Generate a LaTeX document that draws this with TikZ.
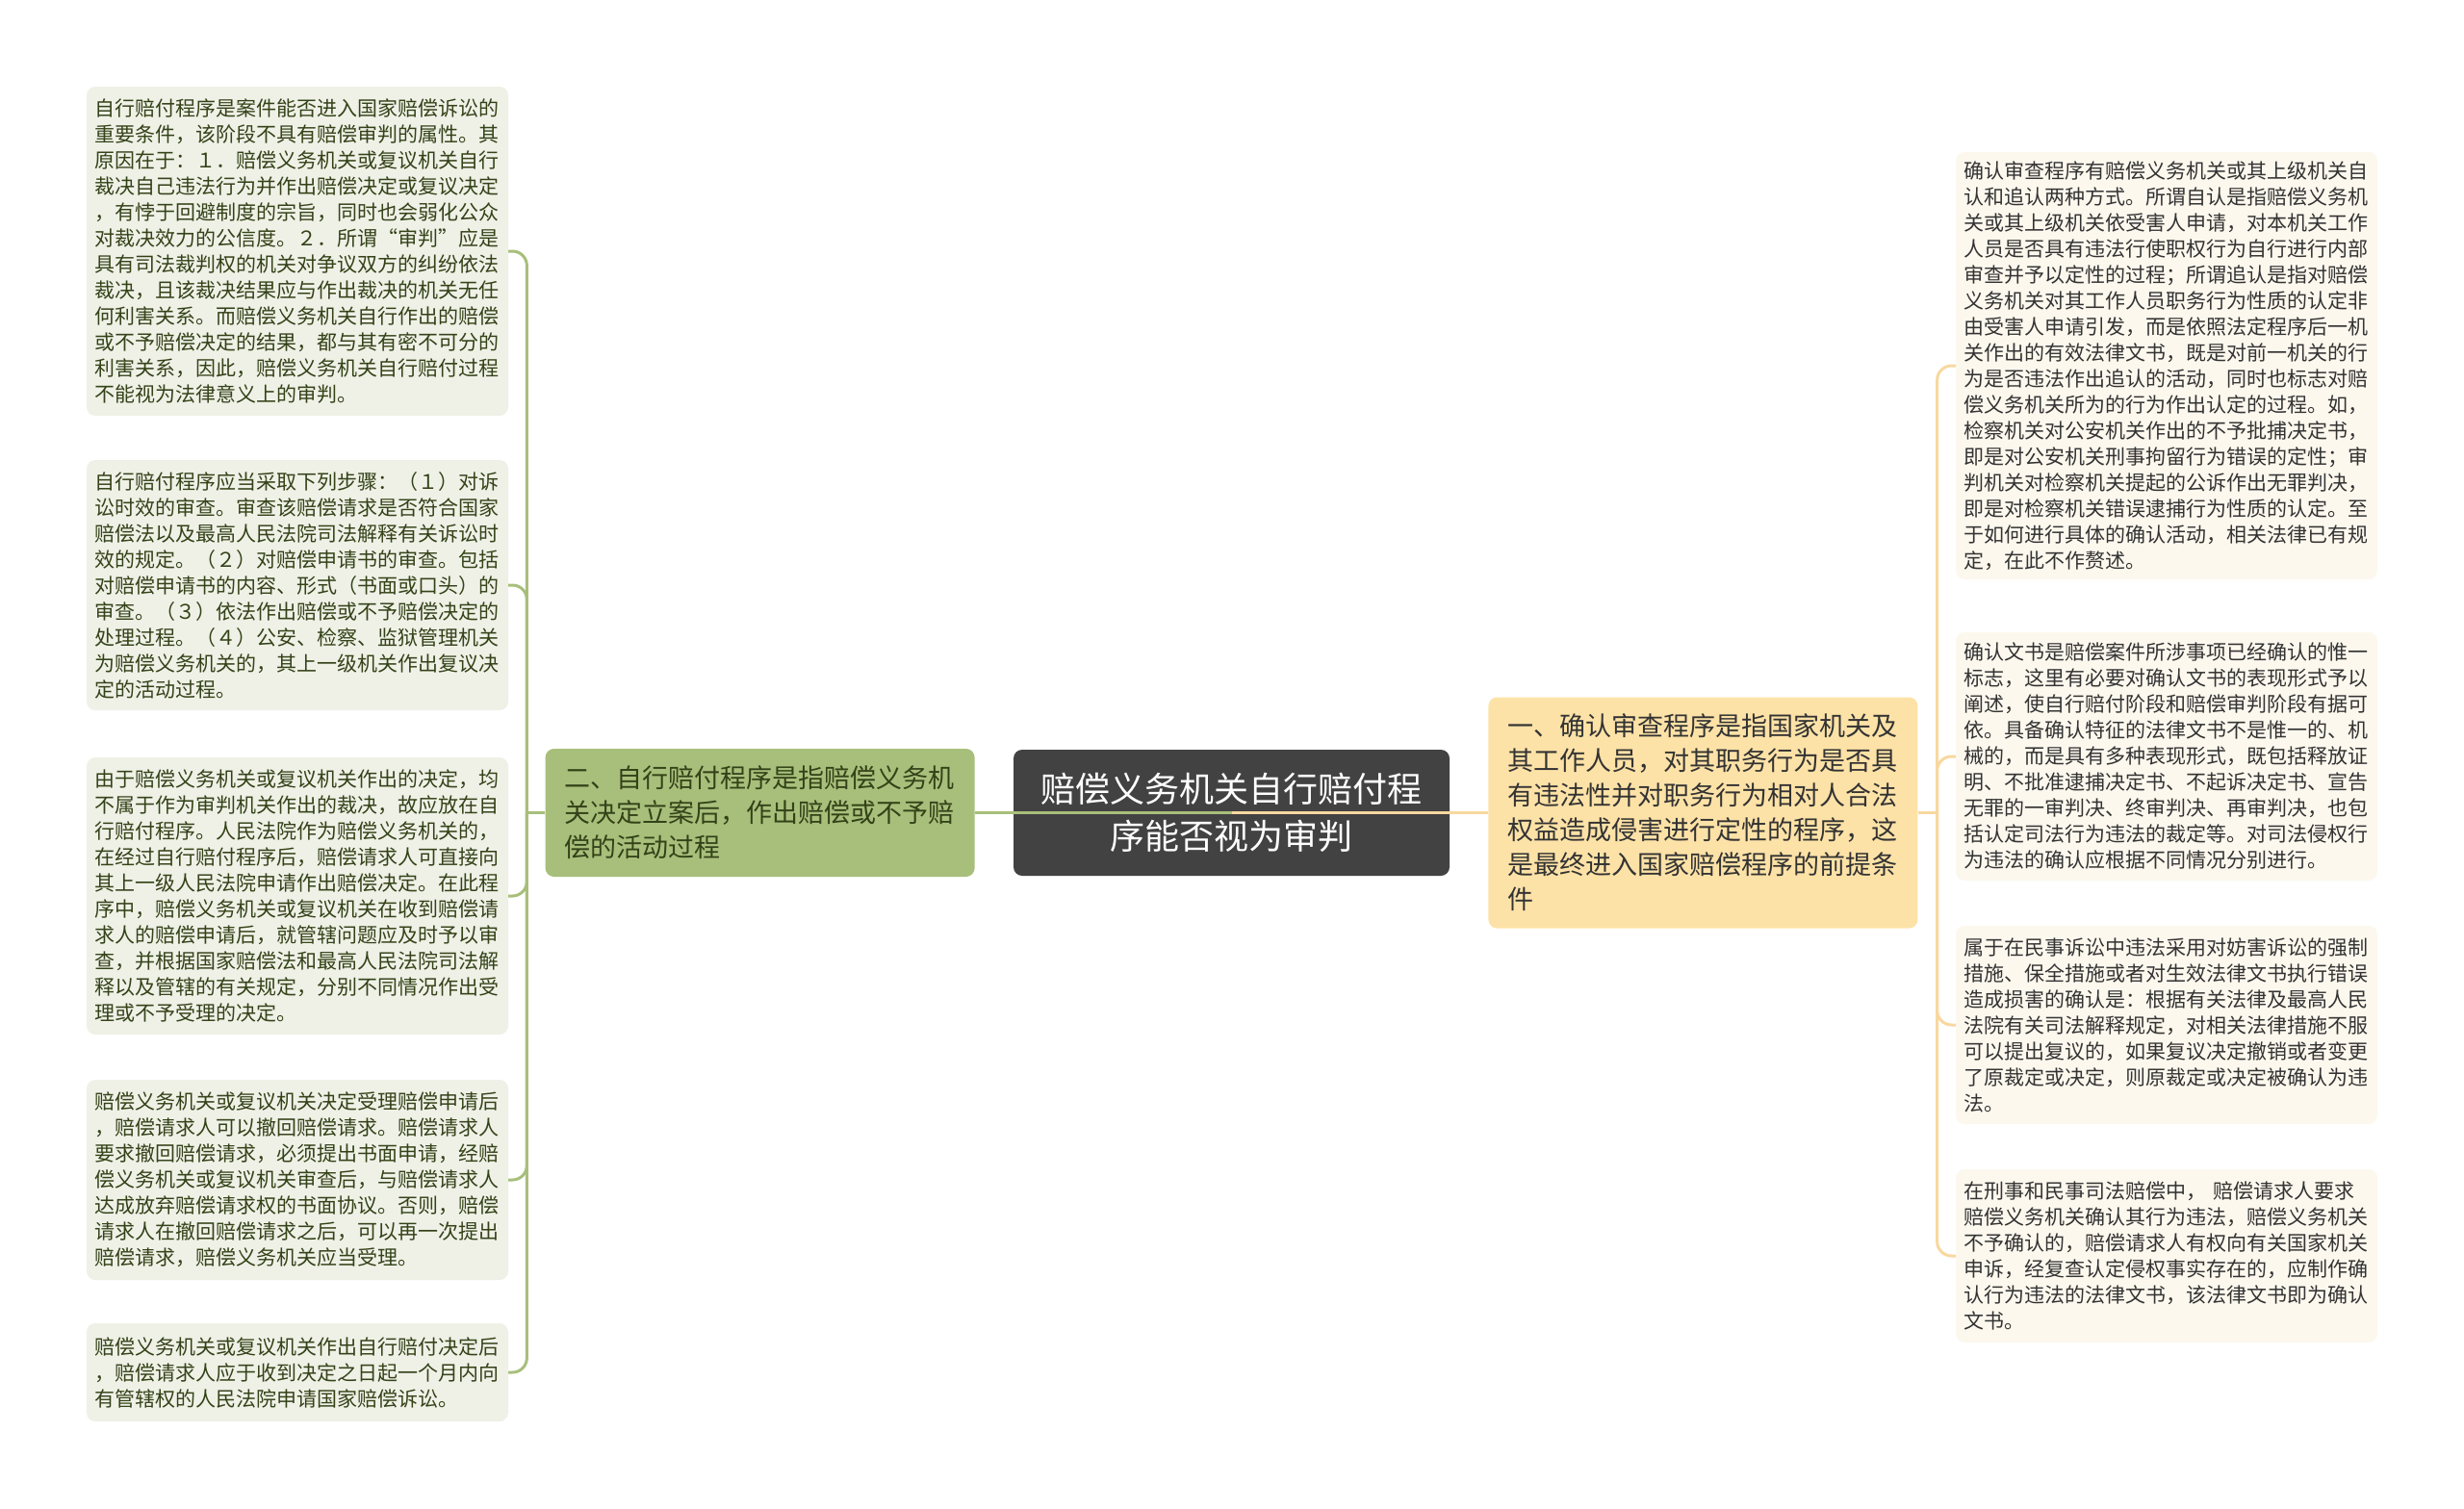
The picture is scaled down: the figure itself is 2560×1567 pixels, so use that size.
\documentclass[tikz,border=0pt]{standalone}
\usepackage{fontspec}
\setmainfont{Noto Sans CJK SC}
\usepackage{tikz}
\usetikzlibrary{positioning}
\definecolor{rootgray}{RGB}{66,66,66}
\definecolor{sagegreen}{RGB}{168,191,123}
\definecolor{sageleaf}{RGB}{239,241,231}
\definecolor{sagetext}{RGB}{52,66,24}
\definecolor{sandorange}{RGB}{253,226,167}
\definecolor{sandline}{RGB}{248,216,160}
\definecolor{sandleaf}{RGB}{253,248,238}
\definecolor{inkgray}{RGB}{51,51,51}

\begin{document}
\begin{tikzpicture}[x=1pt,y=-1pt,node distance=40pt,
    root/.style={rectangle,rounded corners=9pt,fill=rootgray,text=white,align=center,
        text width=400pt,minimum width=453pt,minimum height=131pt,inner sep=0pt,
        font=\fontsize{36}{49}\selectfont},
    branch/.style={rectangle,rounded corners=9pt,align=left,text width=406pt,
        minimum width=446pt,inner sep=0pt,font=\fontsize{27}{36}\selectfont},
    leaf/.style={rectangle,rounded corners=9pt,align=left,text width=421pt,
        minimum width=438pt,inner sep=0pt,font=\fontsize{21}{27}\selectfont},
    payleaf/.style={leaf,fill=sageleaf,text=sagetext},
    confleaf/.style={leaf,fill=sandleaf,text=inkgray},
    greenlink/.style={draw=sagegreen,line width=3pt},
    sandlink/.style={draw=sandline,line width=3pt}]

    \fill[white] (0,0) rectangle (2560,1567);
    \useasboundingbox (0,0) rectangle (2560,1567);

    \node[root] (root) at (1279.5,844.5) {赔偿义务机关自行赔付程\\序能否视为审判};
    \node[branch,fill=sagegreen,text=sagetext,minimum height=133pt,left=of root] (pay)
        {二、自行赔付程序是指赔偿义务机\\关决定立案后，作出赔偿或不予赔\\偿的活动过程};
    \node[branch,fill=sandorange,text=inkgray,minimum height=240pt,right=of root] (conf)
        {一、确认审查程序是指国家机关及\\其工作人员，对其职务行为是否具\\有违法性并对职务行为相对人合法\\权益造成侵害进行定性的程序，这\\是最终进入国家赔偿程序的前提条\\件};

    \node[payleaf,minimum height=342pt] (pay1) at (309,261)
        {自行赔付程序是案件能否进入国家赔偿诉讼的\\重要条件，该阶段不具有赔偿审判的属性。其\\原因在于：１．赔偿义务机关或复议机关自行\\裁决自己违法行为并作出赔偿决定或复议决定\\，有悖于回避制度的宗旨，同时也会弱化公众\\对裁决效力的公信度。２．所谓“审判”应是\\具有司法裁判权的机关对争议双方的纠纷依法\\裁决，且该裁决结果应与作出裁决的机关无任\\何利害关系。而赔偿义务机关自行作出的赔偿\\或不予赔偿决定的结果，都与其有密不可分的\\利害关系，因此，赔偿义务机关自行赔付过程\\不能视为法律意义上的审判。};
    \node[payleaf,minimum height=260pt] (pay2) at (309,608)
        {自行赔付程序应当采取下列步骤：（１）对诉\\讼时效的审查。审查该赔偿请求是否符合国家\\赔偿法以及最高人民法院司法解释有关诉讼时\\效的规定。（２）对赔偿申请书的审查。包括\\对赔偿申请书的内容、形式（书面或口头）的\\审查。（３）依法作出赔偿或不予赔偿决定的\\处理过程。（４）公安、检察、监狱管理机关\\为赔偿义务机关的，其上一级机关作出复议决\\定的活动过程。};
    \node[payleaf,minimum height=288pt] (pay3) at (309,931)
        {由于赔偿义务机关或复议机关作出的决定，均\\不属于作为审判机关作出的裁决，故应放在自\\行赔付程序。人民法院作为赔偿义务机关的，\\在经过自行赔付程序后，赔偿请求人可直接向\\其上一级人民法院申请作出赔偿决定。在此程\\序中，赔偿义务机关或复议机关在收到赔偿请\\求人的赔偿申请后，就管辖问题应及时予以审\\查，并根据国家赔偿法和最高人民法院司法解\\释以及管辖的有关规定，分别不同情况作出受\\理或不予受理的决定。};
    \node[payleaf,minimum height=208pt] (pay4) at (309,1226)
        {赔偿义务机关或复议机关决定受理赔偿申请后\\，赔偿请求人可以撤回赔偿请求。赔偿请求人\\要求撤回赔偿请求，必须提出书面申请，经赔\\偿义务机关或复议机关审查后，与赔偿请求人\\达成放弃赔偿请求权的书面协议。否则，赔偿\\请求人在撤回赔偿请求之后，可以再一次提出\\赔偿请求，赔偿义务机关应当受理。};
    \node[payleaf,minimum height=102pt] (pay5) at (309,1426)
        {赔偿义务机关或复议机关作出自行赔付决定后\\，赔偿请求人应于收到决定之日起一个月内向\\有管辖权的人民法院申请国家赔偿诉讼。};

    \node[confleaf,minimum height=444pt] (conf1) at (2251,380)
        {确认审查程序有赔偿义务机关或其上级机关自\\认和追认两种方式。所谓自认是指赔偿义务机\\关或其上级机关依受害人申请，对本机关工作\\人员是否具有违法行使职权行为自行进行内部\\审查并予以定性的过程；所谓追认是指对赔偿\\义务机关对其工作人员职务行为性质的认定非\\由受害人申请引发，而是依照法定程序后一机\\关作出的有效法律文书，既是对前一机关的行\\为是否违法作出追认的活动，同时也标志对赔\\偿义务机关所为的行为作出认定的过程。如，\\检察机关对公安机关作出的不予批捕决定书，\\即是对公安机关刑事拘留行为错误的定性；审\\判机关对检察机关提起的公诉作出无罪判决，\\即是对检察机关错误逮捕行为性质的认定。至\\于如何进行具体的确认活动，相关法律已有规\\定，在此不作赘述。};
    \node[confleaf,minimum height=258pt] (conf2) at (2251,786)
        {确认文书是赔偿案件所涉事项已经确认的惟一\\标志，这里有必要对确认文书的表现形式予以\\阐述，使自行赔付阶段和赔偿审判阶段有据可\\依。具备确认特征的法律文书不是惟一的、机\\械的，而是具有多种表现形式，既包括释放证\\明、不批准逮捕决定书、不起诉决定书、宣告\\无罪的一审判决、终审判决、再审判决，也包\\括认定司法行为违法的裁定等。对司法侵权行\\为违法的确认应根据不同情况分别进行。};
    \node[confleaf,minimum height=206pt] (conf3) at (2251,1065)
        {属于在民事诉讼中违法采用对妨害诉讼的强制\\措施、保全措施或者对生效法律文书执行错误\\造成损害的确认是：根据有关法律及最高人民\\法院有关司法解释规定，对相关法律措施不服\\可以提出复议的，如果复议决定撤销或者变更\\了原裁定或决定，则原裁定或决定被确认为违\\法。};
    \node[confleaf,minimum height=180pt] (conf4) at (2251,1305)
        {在刑事和民事司法赔偿中， 赔偿请求人要求\\赔偿义务机关确认其行为违法，赔偿义务机关\\不予确认的，赔偿请求人有权向有关国家机关\\申诉，经复查认定侵权事实存在的，应制作确\\认行为违法的法律文书，该法律文书即为确认\\文书。};

    \draw[greenlink] (root.center) -- (pay.east);
    \draw[sandlink] (root.center) -- (conf.west);

    \coordinate[left=19pt of pay.west] (payhub);
    \draw[greenlink] (pay.west) -- (payhub);
    \foreach \n in {pay1,pay2,pay3,pay4,pay5}
        \draw[greenlink,rounded corners=15pt] (payhub) |- (\n.east);

    \coordinate[right=20pt of conf.east] (confhub);
    \draw[sandlink] (conf.east) -- (confhub);
    \foreach \n in {conf1,conf2,conf3,conf4}
        \draw[sandlink,rounded corners=15pt] (confhub) |- (\n.west);

\end{tikzpicture}
\end{document}
